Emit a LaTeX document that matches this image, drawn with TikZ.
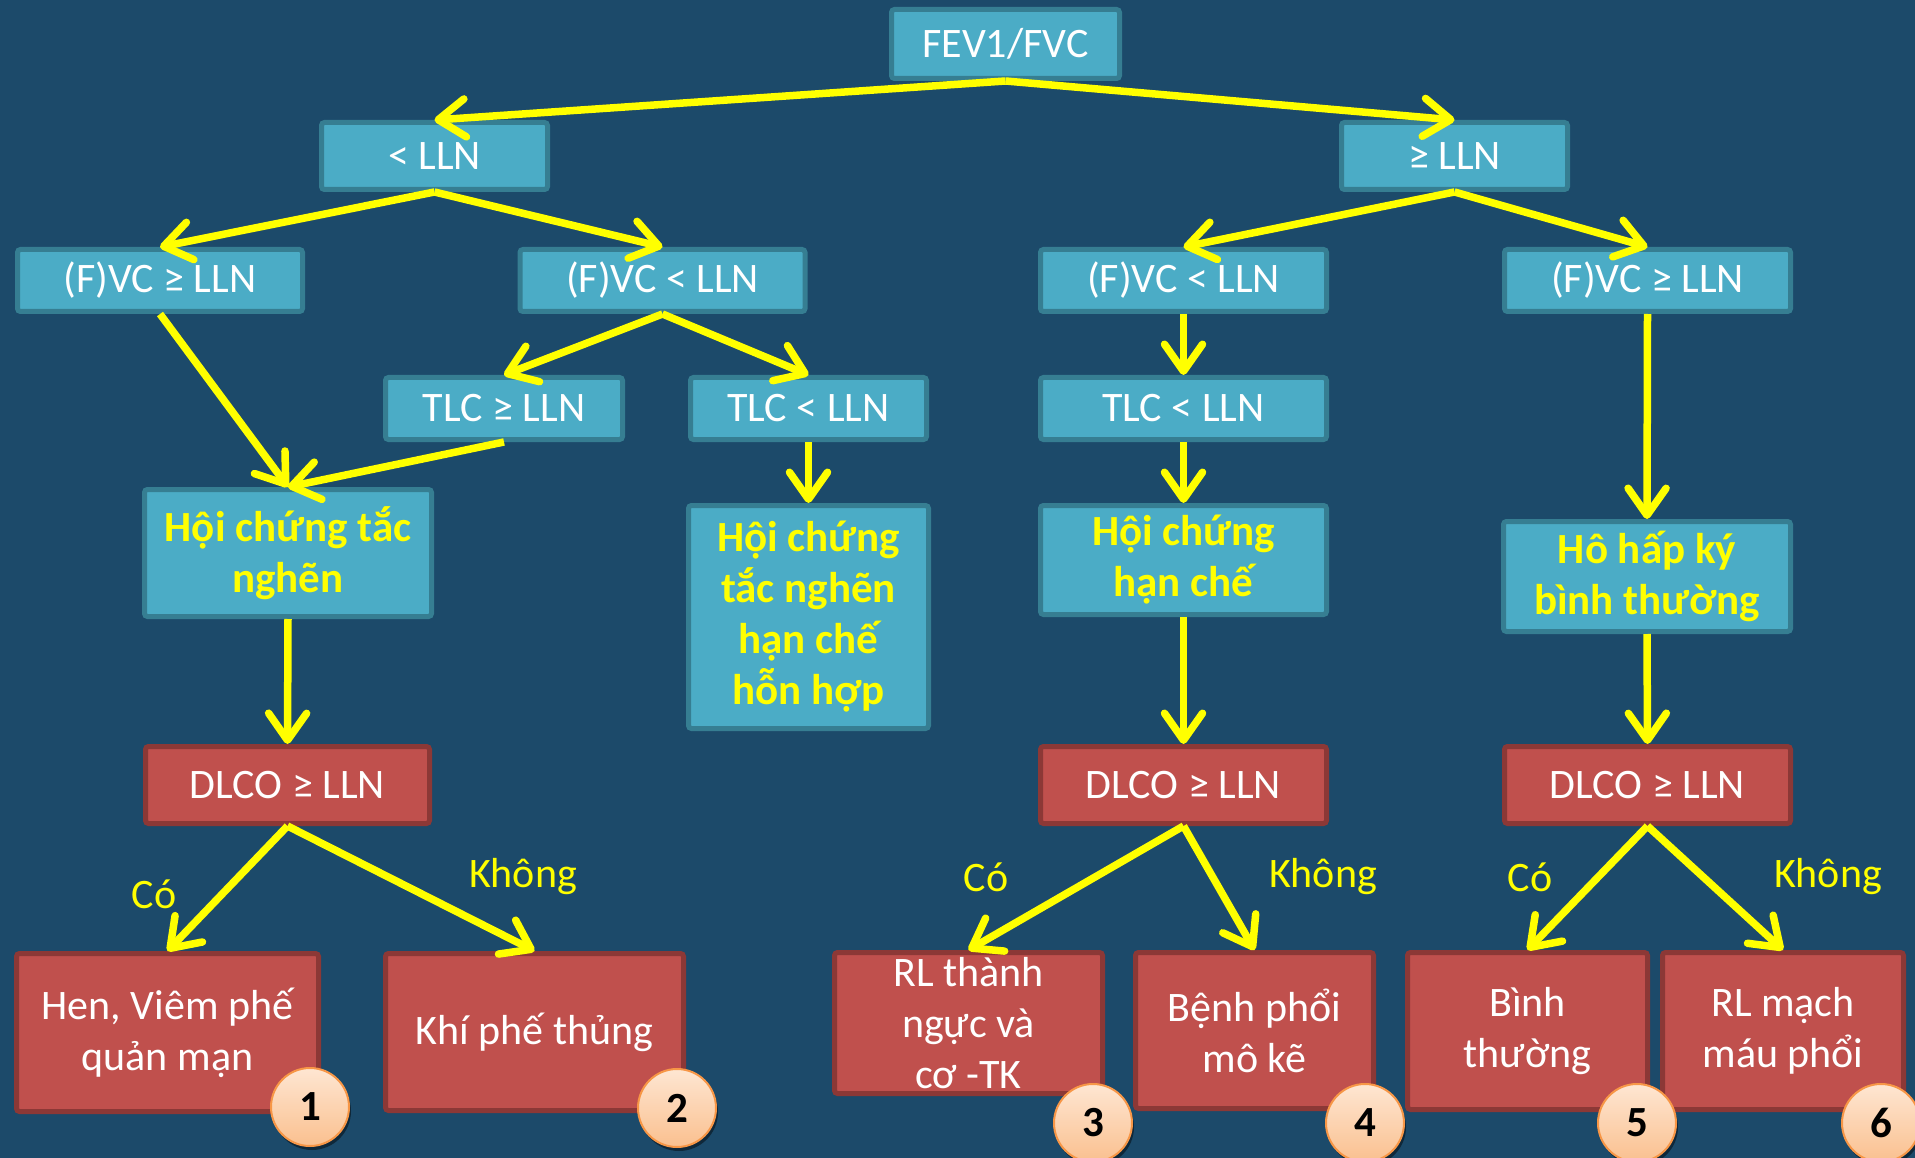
\documentclass[tikz,border=0pt]{standalone}
\usepackage{fontspec}
\setmainfont{Carlito}
\usetikzlibrary{arrows.meta,shadows}

\definecolor{bg}{HTML}{1C4A6A}
\definecolor{tealfill}{HTML}{4BACC6}
\definecolor{tealedge}{HTML}{367E92}
\definecolor{redfill}{HTML}{C0504D}
\definecolor{rededge}{HTML}{8C3836}
\definecolor{flowyellow}{HTML}{FFFF00}
\definecolor{badgetop}{HTML}{FEE6D2}
\definecolor{badgebot}{HTML}{FAC08F}
\definecolor{badgeedge}{HTML}{F79646}

\begin{document}
\begin{tikzpicture}[x=1pt,y=-1pt,
  base/.style={line width=5pt, rounded corners=3pt, inner sep=0pt, align=center},
  test/.style={base, draw=tealedge, fill=tealfill, text=white,
    font=\fontsize{42}{51}\selectfont},
  finding/.style={base, draw=tealedge, fill=tealfill, text=flowyellow,
    font=\fontsize{43}{51}\selectfont\bfseries},
  outcome/.style={base, draw=rededge, fill=redfill, text=white,
    font=\fontsize{42}{51}\selectfont},
  badge/.style={circle, draw=badgeedge, line width=2pt, top color=badgetop,
    bottom color=badgebot, minimum size=78pt, inner sep=0pt, text=black,
    font=\fontsize{43}{43}\selectfont\bfseries,
    drop shadow={shadow xshift=2pt, shadow yshift=-4pt, opacity=0.45, fill=black}},
  flow/.style={draw=flowyellow, line width=7.5pt,
    -{Straight Barb[length=27pt,width=38pt,round]}},
  answer/.style={text=flowyellow, inner sep=0pt, font=\fontsize{42}{48}\selectfont}
]
% background and page frame
\useasboundingbox (0,0) rectangle (1915,1158);
\fill[bg] (0,0) rectangle (1915,1158);

% first level
\node[test, minimum width=228pt, minimum height=69pt] (fev) at (1005.5,44) {FEV1/FVC};
\node[test, minimum width=226pt, minimum height=67pt] (lt) at (434.5,156) {< LLN};
\node[test, minimum width=226pt, minimum height=67pt] (ge) at (1454.5,156) {≥ LLN};

% vital capacity tests
\node[test, minimum width=285pt, minimum height=62pt] (fvcA) at (160,280.5) {(F)VC ≥ LLN};
\node[test, minimum width=285pt, minimum height=62pt] (fvcB) at (662.5,280.5) {(F)VC < LLN};
\node[test, minimum width=286pt, minimum height=62pt] (fvcC) at (1183.5,280.5) {(F)VC < LLN};
\node[test, minimum width=286pt, minimum height=62pt] (fvcD) at (1647.5,280.5) {(F)VC ≥ LLN};

% total lung capacity tests
\node[test, minimum width=237pt, minimum height=62pt] (tlcA) at (504,408.5) {TLC ≥ LLN};
\node[test, minimum width=236pt, minimum height=62pt] (tlcB) at (808.5,408.5) {TLC < LLN};
\node[test, minimum width=286pt, minimum height=62pt] (tlcC) at (1183.5,408.5) {TLC < LLN};

% syndromes
\node[finding, minimum width=287pt, minimum height=127pt] (obs) at (288,553) {Hội chứng tắc\\nghẽn};
\node[finding, minimum width=240pt, minimum height=223pt] (mix) at (808.5,617) {Hội chứng\\tắc nghẽn\\hạn chế\\hỗn hợp};
\node[finding, minimum width=286pt, minimum height=109pt] (res) at (1183.5,560) {Hội chứng\\hạn chế};
\node[finding, minimum width=287pt, minimum height=110pt] (nor) at (1647,576.5) {Hô hấp ký\\bình thường};

% diffusion tests
\node[outcome, minimum width=284pt, minimum height=77pt] (dlA) at (287.5,785) {DLCO ≥ LLN};
\node[outcome, minimum width=286pt, minimum height=77pt] (dlB) at (1183.5,785) {DLCO ≥ LLN};
\node[outcome, minimum width=286pt, minimum height=77pt] (dlC) at (1647.5,785) {DLCO ≥ LLN};

% diagnoses
\node[outcome, minimum width=302pt, minimum height=158pt] (dx1) at (167.5,1032.5) {Hen, Viêm phế\\quản mạn};
\node[outcome, minimum width=298pt, minimum height=157pt] (dx2) at (534.5,1032) {Khí phế thủng};
\node[outcome, minimum width=268pt, minimum height=141pt] (dx3) at (968.5,1023) {RL thành\\ngực và\\cơ -TK};
\node[outcome, minimum width=238pt, minimum height=156pt] (dx4) at (1254.5,1030.5) {Bệnh phổi\\mô kẽ};
\node[outcome, minimum width=240pt, minimum height=157pt] (dx5) at (1527.5,1031) {Bình\\thường};
\node[outcome, minimum width=241pt, minimum height=157pt] (dx6) at (1783,1031) {RL mạch\\máu phổi};

% branch labels
\node[answer] (yesA) at (154,894) {Có};
\node[answer] (noA) at (523,877) {Không};
\node[answer] (yesB) at (986,877) {Có};
\node[answer] (noB) at (1323,877) {Không};
\node[answer] (yesC) at (1530,877) {Có};
\node[answer] (noC) at (1828,877) {Không};

% connectors
\draw[flow] (fev.south) -- (lt.north);
\draw[flow] (fev.south) -- (ge.north);
\draw[flow] (lt.south) -- (fvcA.north);
\draw[flow] (lt.south) -- (fvcB.north);
\draw[flow] (ge.south) -- (fvcC.north);
\draw[flow] (ge.south) -- (fvcD.north);
\draw[flow] (fvcA.south) -- (obs.north);
\draw[flow] (fvcB.south) -- (tlcA.north);
\draw[flow] (fvcB.south) -- (tlcB.north);
\draw[flow] (tlcA.south) -- (obs.north);
\draw[flow] (tlcB.south) -- (mix.north);
\draw[flow] (fvcC.south) -- (tlcC.north);
\draw[flow] (tlcC.south) -- (res.north);
\draw[flow] (fvcD.south) -- (nor.north);
\draw[flow] (obs.south) -- (dlA.north);
\draw[flow] (res.south) -- (dlB.north);
\draw[flow] (nor.south) -- (dlC.north);
\draw[flow] (dlA.south) -- (dx1.north);
\draw[flow] (dlA.south) -- (dx2.north);
\draw[flow] (dlB.south) -- (dx3.north);
\draw[flow] (dlB.south) -- (dx4.north);
\draw[flow] (dlC.south) -- (dx5.north);
\draw[flow] (dlC.south) -- (dx6.north);

% numbered badges
\node[badge] (b1) at (310,1107) {1};
\node[badge] (b2) at (677,1108) {2};
\node[badge] (b3) at (1093,1123) {3};
\node[badge] (b4) at (1365,1123) {4};
\node[badge] (b5) at (1637,1123) {5};
\node[badge] (b6) at (1881,1123) {6};
\end{tikzpicture}
\end{document}
